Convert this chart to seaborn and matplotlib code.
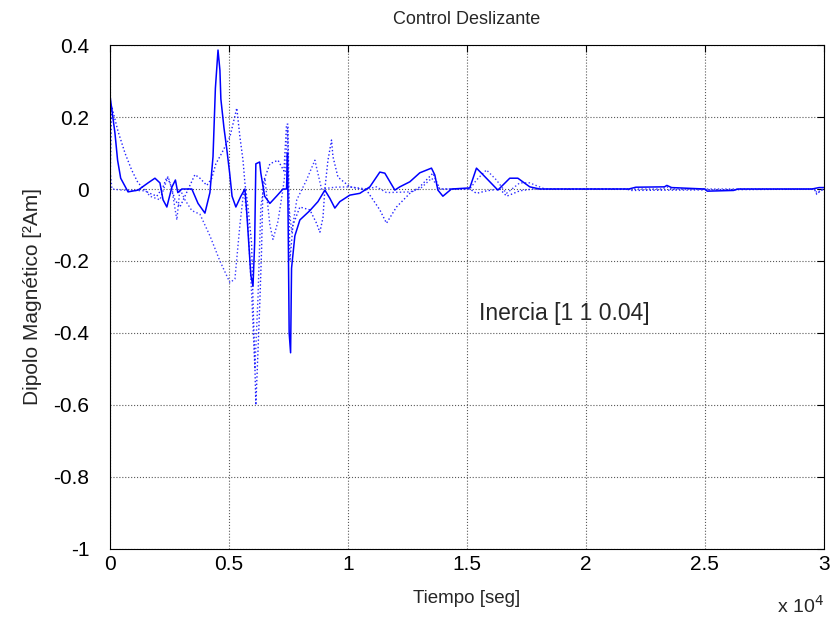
import numpy as np
import pandas as pd
import matplotlib
matplotlib.use("Agg")
import matplotlib.pyplot as plt
import seaborn as sns

# Solid series (time in s, dipole in Am^2)
t_solid = [0, 10, 210, 320, 450, 760, 1180, 1600, 1890, 2100, 2230, 2390, 2600, 2750, 2850,
           3020, 3440, 3700, 3990, 4200, 4330, 4430, 4540, 4620, 4660, 4790, 4910, 5030, 5130,
           5290, 5500, 5670, 5750, 5920, 6010, 6080, 6130, 6290, 6340, 6500, 6720, 7000, 7270,
           7420, 7460, 7530, 7590, 7630, 7770, 7980, 8400, 8740, 9030, 9240, 9450, 9660, 10080,
           10500, 10920, 11340, 11550, 11970, 12180, 12600, 13020, 13510, 13650, 13780, 13990,
           14350, 15120, 15400, 15670, 16300, 16800, 17140, 17640, 18060, 20000, 21800, 22100,
           23300, 23400, 23600, 25000, 25100, 26200, 26400, 29500, 29800, 30000]
y_solid = [-1.0, 0.255, 0.155, 0.08, 0.03, -0.008, -0.003, 0.017, 0.03, 0.017, -0.03, -0.05, 0.005, 0.025, -0.01,
           0.0, 0.0, -0.04, -0.067, -0.01, 0.09, 0.28, 0.386, 0.33, 0.25, 0.17, 0.11, 0.044, -0.02,
           -0.05, -0.02, 0.0, -0.067, -0.24, -0.27, -0.15, 0.07, 0.075, 0.044, -0.02, -0.04, -0.02, 0.0,
           0.0, 0.1, -0.40, -0.455, -0.22, -0.13, -0.086, -0.06, -0.035, -0.003, -0.026, -0.053, -0.035, -0.017,
           -0.012, 0.006, 0.047, 0.044, -0.003, 0.006, 0.02, 0.045, 0.058, 0.039, -0.003, -0.02,
           0.0, 0.003, 0.058, 0.04, -0.003, 0.03, 0.03, 0.006, 0.0, 0.0, 0.0, 0.005,
           0.006, 0.01, 0.004, 0.0, -0.006, -0.004, 0.0, 0.0, 0.004, 0.004]

# First dotted series
t_dot1 = [0, 70, 340, 630, 910, 1180, 1600, 1970, 2230, 2390, 2520, 2730, 2940, 3150, 3570,
          3780, 4070, 4280, 4450, 4700, 5040, 5330, 5460, 5590, 5670, 5800, 5950, 6010, 6090,
          6130, 6220, 6300, 6370, 6430, 6720, 7060, 7310, 7420, 7480, 7560, 7690, 7980, 8400,
          8680, 8820, 8950, 9030, 9160, 9310, 9370, 9580, 10080, 10780, 11340, 11620, 12040,
          12600, 13020, 13570, 13860, 15120, 15400, 15830, 16380, 16670, 17220, 17770, 21700,
          21900, 29600, 29700, 29850, 30000]
y_dot1 = [0.0, 0.23, 0.16, 0.1, 0.053, 0.017, -0.01, -0.02, 0.006, 0.033, 0.017, -0.03, -0.05, -0.02, 0.04,
          0.03, 0.01, 0.03, 0.07, 0.1, 0.145, 0.225, 0.145, 0.08, 0.017, -0.05, -0.15, -0.31, -0.49,
          -0.6, -0.45, -0.31, -0.17, 0.017, 0.07, 0.08, 0.05, 0.18, 0.18, -0.2, -0.1, -0.05, -0.058,
          -0.095, -0.12, -0.08, 0.0, 0.08, 0.136, 0.09, 0.033, 0.006, -0.003, -0.058, -0.095, -0.05,
          -0.012, 0.006, 0.044, 0.0, 0.0, -0.012, -0.005, 0.0, -0.02, -0.005, 0.0, 0.0,
          -0.004, 0.0, -0.015, -0.005, 0.0]

# Second dotted series
t_dot2 = [0, 80, 500, 1500, 1680, 2100, 2440, 2600, 2810, 2940, 3150, 3440, 3780, 4200, 4620,
          5040, 5250, 5460, 5630, 5800, 5960, 6090, 6220, 6340, 6510, 6720, 6850, 7060, 7270,
          7390, 7460, 7520, 7640, 7850, 8260, 8610, 8890, 9450, 10080, 10780, 11200, 11620,
          12600, 13020, 13520, 13860, 15120, 15400, 15820, 16240, 16660, 17220, 17640, 18270,
          23200, 23400, 23600, 29600, 29700, 30000]
y_dot2 = [0.058, 0.0, -0.003, -0.005, -0.02, -0.03, 0.035, 0.0, -0.086, 0.0, -0.03, -0.06, -0.07, -0.13, -0.2,
          -0.26, -0.25, -0.1, 0.0, -0.1, -0.3, -0.5, -0.3, -0.05, 0.03, -0.1, -0.14, -0.09, 0.0,
          0.06, 0.17, -0.05, -0.12, -0.03, 0.025, 0.08, 0.0, 0.005, 0.006, 0.0, 0.006, -0.01,
          -0.008, 0.0, 0.03, 0.0, 0.0, 0.025, 0.053, 0.025, -0.012, 0.017, 0.017, 0.0,
          0.0, 0.006, 0.0, 0.0, -0.01, 0.0]

x_ticks = [0, 5000, 10000, 15000, 20000, 25000, 30000]
x_tick_labels = ["0", "0.5", "1", "1.5", "2", "2.5", "3"]
y_ticks = [-1, -0.8, -0.6, -0.4, -0.2, 0, 0.2, 0.4]
y_tick_labels = ["-1", "-0.8", "-0.6", "-0.4", "-0.2", "0", "0.2", "0.4"]

sns.set_style("white")
plt.rcParams['font.family'] = ['Liberation Sans', 'DejaVu Sans']
plt.rcParams['axes.unicode_minus'] = False

fig = plt.figure(figsize=(8.35, 6.21), dpi=100)
ax = fig.add_axes([0.1317, 0.116, 0.855, 0.8115])

sns.lineplot(x=t_dot2, y=y_dot2, ax=ax, color='#3b3bff', linewidth=1.0, linestyle=':',
             estimator=None, sort=False)
sns.lineplot(x=t_dot1, y=y_dot1, ax=ax, color='#2020ff', linewidth=1.0, linestyle=':',
             estimator=None, sort=False)
sns.lineplot(x=t_solid, y=y_solid, ax=ax, color='#0000ff', linewidth=1.1,
             estimator=None, sort=False)

ax.set_xlim(0, 30000)
ax.set_ylim(-1, 0.4)
ax.set_xticks(x_ticks)
ax.set_xticklabels(x_tick_labels)
ax.set_yticks(y_ticks)
ax.set_yticklabels(y_tick_labels)
ax.tick_params(direction='in', top=True, right=True, length=5, width=0.8,
               labelsize=15, colors='black')
ax.tick_params(axis='y', pad=15)
ax.tick_params(axis='x', pad=4)
ax.grid(True, linestyle=':', color='0.35', linewidth=0.8)
for s in ax.spines.values():
    s.set_color('black')
    s.set_linewidth(0.8)

ax.set_title("Control Deslizante", fontsize=13, pad=15)
ax.set_xlabel("Tiempo [seg]", fontsize=13.5, labelpad=12)
ax.set_ylabel("Dipolo Magnético [²Am]", fontsize=15, labelpad=8)
ax.text(15500, -0.345, "Inercia [1 1 0.04]", fontsize=16.5, ha='left', va='center')
ax.text(1.0, -0.112, r"x 10$^{4}$", transform=ax.transAxes, fontsize=14,
        ha='right', va='center')

fig.savefig("out.png", dpi=100)
